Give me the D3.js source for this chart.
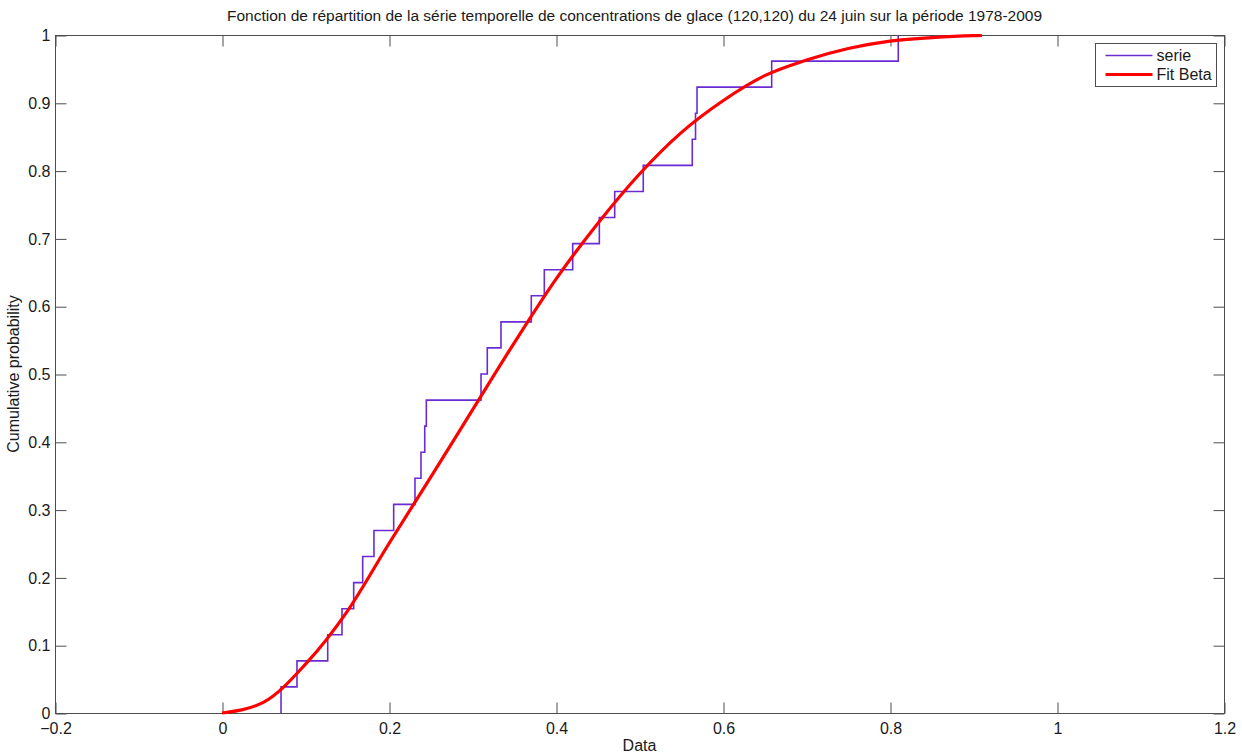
<!DOCTYPE html>
<html lang="fr">
<head>
  <meta charset="UTF-8">
  <title>Fonction de répartition</title>
  <script src="https://d3js.org/d3.v7.min.js"></script>
  <style>
    body {
      margin: 0;
      background-color: white;
    }

    svg {
      display: block;
      font-family: "Liberation Sans", Arial, sans-serif;
    }

    .frame {
      fill: none;
      stroke: #4d4d4d;
      stroke-width: 1;
    }

    .tick-label {
      font-size: 16px;
      fill: #1a1a1a;
    }
  </style>
</head>
<body>

<script>
  // échantillon trié
  const serieX = [0.0707, 0.0898, 0.1266, 0.1437, 0.1577, 0.1685, 0.1820, 0.2056, 0.2311, 0.2383,
    0.2428, 0.2447, 0.3102, 0.3177, 0.3341, 0.3704, 0.3860, 0.4200, 0.4519, 0.4703,
    0.5045, 0.5632, 0.5671, 0.5689, 0.6583, 0.8099];
  const serieP = [0.0385, 0.0769, 0.1154, 0.1538, 0.1923, 0.2308, 0.2692, 0.3077, 0.3462, 0.3846,
    0.4231, 0.4615, 0.5, 0.5385, 0.5769, 0.6154, 0.6538, 0.6923, 0.7308, 0.7692,
    0.8077, 0.8462, 0.8846, 0.9231, 0.9615, 1];

  // courbe Fit Beta (points lus)
  const fitX = [0, 0.05, 0.1, 0.15, 0.2, 0.25, 0.3, 0.35, 0.4, 0.45, 0.5, 0.55, 0.6, 0.65, 0.7, 0.75, 0.8, 0.85, 0.9, 0.91];
  const fitY = [0, 0.016, 0.072, 0.150, 0.250, 0.348, 0.447, 0.546, 0.640, 0.722, 0.795, 0.856, 0.903, 0.940, 0.963, 0.980, 0.991, 0.996, 0.999, 0.9993];

  const xTicks = [-0.2, 0, 0.2, 0.4, 0.6, 0.8, 1, 1.2];
  const yTicks = [0, 0.1, 0.2, 0.3, 0.4, 0.5, 0.6, 0.7, 0.8, 0.9, 1];

  const width = 1242;
  const height = 754;
  const pLeft = 55, pRight = 1224, pTop = 35, pBottom = 713;
  const tickLen = 11;

  const svg = d3.select("body").append("svg")
    .attr("width", width)
    .attr("height", height);

  const x = d3.scaleLinear().domain([-0.2, 1.2]).range([pLeft, pRight]);
  const y = d3.scaleLinear().domain([0, 1]).range([pBottom, pTop]);

  const fmt = d => (d === 0 || d === 1) ? String(d) : d3.format(".1f")(d);

  // axes (ticks vers l'intérieur, sur les quatre côtés)
  const g = svg.append("g").attr("transform", "translate(0.5,0.5)");

  g.append("g")
    .attr("transform", `translate(0,${pBottom})`)
    .call(d3.axisBottom(x).tickValues(xTicks).tickSize(-tickLen).tickPadding(9).tickFormat(fmt))
    .call(a => a.select(".domain").remove());
  g.append("g")
    .attr("transform", `translate(0,${pTop})`)
    .call(d3.axisTop(x).tickValues(xTicks).tickSize(-tickLen).tickFormat(""))
    .call(a => a.select(".domain").remove());
  g.append("g")
    .attr("transform", `translate(${pLeft},0)`)
    .call(d3.axisLeft(y).tickValues(yTicks).tickSize(-tickLen).tickPadding(5).tickFormat(fmt))
    .call(a => a.select(".domain").remove());
  g.append("g")
    .attr("transform", `translate(${pRight},0)`)
    .call(d3.axisRight(y).tickValues(yTicks).tickSize(-tickLen).tickFormat(""))
    .call(a => a.select(".domain").remove());

  g.selectAll(".tick line").attr("stroke", "#4d4d4d");
  g.selectAll("g").attr("font-family", null).attr("font-size", null);
  g.selectAll(".tick text").attr("class", "tick-label");

  g.append("rect")
    .attr("class", "frame")
    .attr("x", pLeft).attr("y", pTop)
    .attr("width", pRight - pLeft).attr("height", pBottom - pTop);

  // série (fonction de répartition empirique)
  const stairs = [[serieX[0], 0]].concat(serieX.map((v, i) => [v, serieP[i]]));
  svg.append("path")
    .datum(stairs)
    .attr("fill", "none")
    .attr("stroke", "#6a2bd3")
    .attr("stroke-width", 1.6)
    .attr("d", d3.line().x(d => x(d[0])).y(d => y(d[1])).curve(d3.curveStepAfter));

  // fit Beta
  svg.append("path")
    .datum(fitX.map((v, i) => [v, fitY[i]]))
    .attr("fill", "none")
    .attr("stroke", "#ff0000")
    .attr("stroke-width", 3.2)
    .attr("d", d3.line().x(d => x(d[0])).y(d => y(d[1])).curve(d3.curveMonotoneX));

  // titre et libellés
  svg.append("text")
    .attr("x", (pLeft + pRight) / 2 - 5).attr("y", 21)
    .attr("text-anchor", "middle")
    .attr("font-size", 15.5)
    .attr("fill", "#1a1a1a")
    .text("Fonction de répartition de la série temporelle de concentrations de glace (120,120) du 24 juin sur la période 1978-2009");

  svg.append("text")
    .attr("x", (pLeft + pRight) / 2).attr("y", 751)
    .attr("text-anchor", "middle")
    .attr("font-size", 16)
    .attr("fill", "#1a1a1a")
    .text("Data");

  svg.append("text")
    .attr("transform", `translate(19,${(pTop + pBottom) / 2}) rotate(-90)`)
    .attr("text-anchor", "middle")
    .attr("font-size", 16)
    .attr("fill", "#1a1a1a")
    .text("Cumulative probability");

  // légende
  const leg = svg.append("g").attr("transform", "translate(1095.5,43.5)");
  leg.append("rect")
    .attr("width", 121).attr("height", 43)
    .attr("fill", "white")
    .attr("stroke", "#4d4d4d");
  const legItems = [["serie", "#6a2bd3", 1.6], ["Fit Beta", "#ff0000", 3.2]];
  legItems.forEach((it, i) => {
    const ly = 12 + i * 19;
    leg.append("line")
      .attr("x1", 10).attr("x2", 57)
      .attr("y1", ly).attr("y2", ly)
      .attr("stroke", it[1]).attr("stroke-width", it[2]);
    leg.append("text")
      .attr("x", 61).attr("y", ly + 5)
      .attr("font-size", 16)
      .attr("fill", "#1a1a1a")
      .text(it[0]);
  });
</script>

</body>
</html>
